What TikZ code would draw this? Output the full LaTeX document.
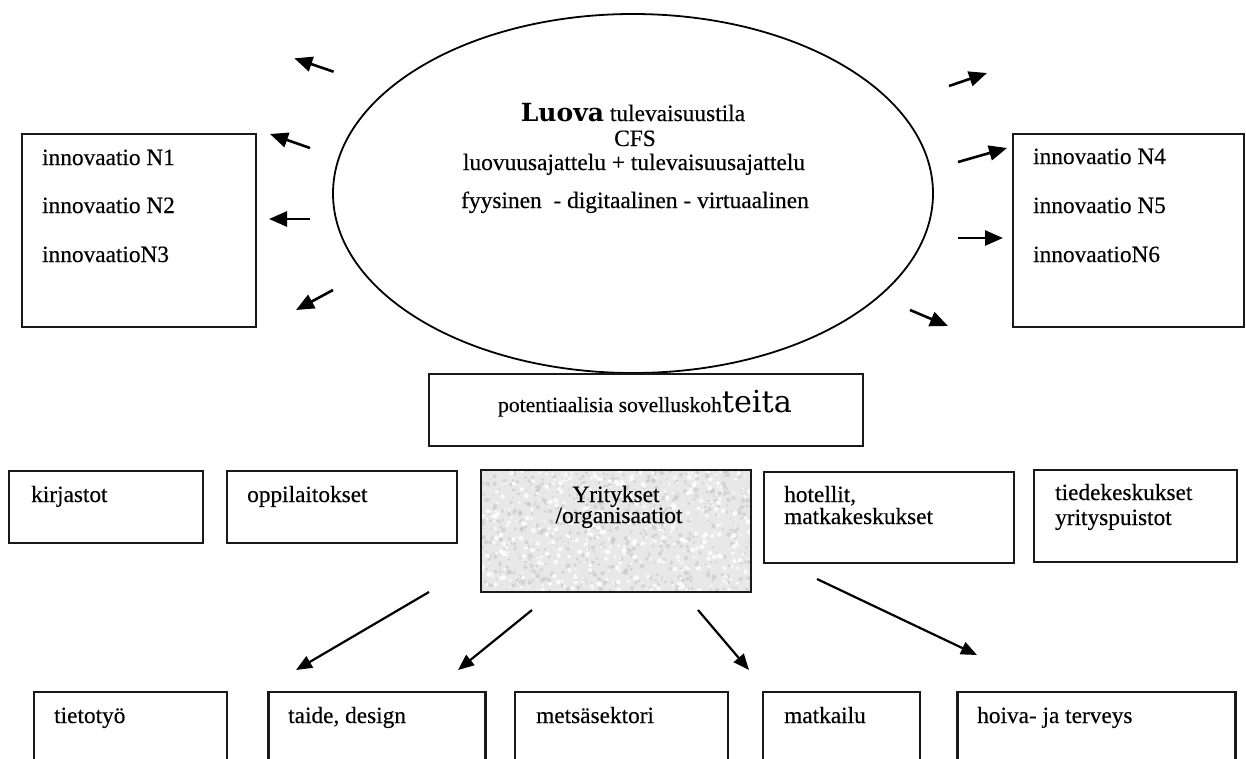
\documentclass[tikz,border=0pt]{standalone}
\usepackage{fontspec}
\setmainfont{Liberation Serif}[UprightFeatures={FakeBold=0.35}]
\newfontfamily\dvs{DejaVu Serif}
\newfontfamily\dvsb{DejaVu Serif Bold}
\usetikzlibrary{arrows.meta,shapes.geometric}
\tikzset{
 box/.style={draw=black!90, line width=2.2pt, anchor=north west, inner sep=0pt, outer sep=0pt},
 txt/.style={anchor=base west, inner sep=0pt, font=\fontsize{23.3}{25}\selectfont},
 ctxt/.style={anchor=base, inner sep=0pt, font=\fontsize{23.4}{25}\selectfont},
 arr/.style={line width=2.6pt, -{Triangle[length=18pt,width=15pt]}},
 arrb/.style={line width=2.2pt, -{Triangle[length=16pt,width=13pt]}},
}
\begin{document}
\begin{tikzpicture}[x=1pt,y=-1pt]
\useasboundingbox (0,0) rectangle (1246,758);
\clip (0,0) rectangle (1246,758);
\fill[white] (0,0) rectangle (1246,758);

% central ellipse
\node[draw, ellipse, line width=1.8pt, minimum width=600pt, minimum height=359pt, inner sep=0pt] (cfs) at (633,193.5) {};
\node[ctxt] (e1) at (633,121) {{\dvsb\fontsize{25}{25}\selectfont Luova} tulevaisuustila};
\node[ctxt] (e2) at (635,146) {CFS};
\node[ctxt] (e3) at (634,170) {luovuusajattelu + tulevaisuusajattelu};
\node[ctxt] (e4) at (635,208) {fyysinen\ \ - digitaalinen - virtuaalinen};

% left innovation box
\node[box, minimum width=234pt, minimum height=193pt] (lbox) at (22,134) {};
\node[txt] (n1) at (42,165) {innovaatio N1};
\node[txt] (n2) at (42,213) {innovaatio N2};
\node[txt] (n3) at (42,262) {innovaatioN3};

% right innovation box
\node[box, minimum width=231pt, minimum height=193pt] (rbox) at (1013,134) {};
\node[txt] (n4) at (1033,164) {innovaatio N4};
\node[txt] (n5) at (1033,213) {innovaatio N5};
\node[txt] (n6) at (1033,262) {innovaatioN6};

% arrows from the ellipse
\coordinate (la1s) at (333.6,71.7); \coordinate (la1e) at (294.3,58.3);
\coordinate (la2s) at (310,148);   \coordinate (la2e) at (270,134);
\coordinate (la3s) at (310,219);   \coordinate (la3e) at (269,219);
\coordinate (la4s) at (333,290);   \coordinate (la4e) at (296,310);
\coordinate (ra1s) at (949,86);    \coordinate (ra1e) at (987,73);
\coordinate (ra2s) at (958,162);   \coordinate (ra2e) at (1007,148);
\coordinate (ra3s) at (958,238);   \coordinate (ra3e) at (1003,238);
\coordinate (ra4s) at (910,310);   \coordinate (ra4e) at (948,326);
\draw[arr] (la1s) -- (la1e);
\draw[arr] (la2s) -- (la2e);
\draw[arr] (la3s) -- (la3e);
\draw[arr] (la4s) -- (la4e);
\draw[arr] (ra1s) -- (ra1e);
\draw[arr] (ra2s) -- (ra2e);
\draw[arr] (ra3s) -- (ra3e);
\draw[arr] (ra4s) -- (ra4e);

% potential applications box
\node[box, minimum width=434pt, minimum height=72pt] (pot) at (429,374) {};
\node[ctxt, font=\fontsize{21.6}{24}\selectfont] (pott) at (645,412) {potentiaalisia sovelluskoh{\dvs\fontsize{30.3}{30}\selectfont teita}};

% middle row
\node[box, minimum width=194pt, minimum height=72pt] (kir) at (9,471) {};
\node[txt] (kirt) at (31,502) {kirjastot};
\node[box, minimum width=230pt, minimum height=72pt] (opp) at (227,471) {};
\node[txt] (oppt) at (247,502) {oppilaitokset};
\node[box, fill=black!9, minimum width=270pt, minimum height=122pt] (yri) at (481,470) {};
\begin{scope}
\clip (482,471) rectangle (750,591);
\pgfmathsetseed{4242}
\foreach \i in {1,...,700}{
  \pgfmathsetmacro{\px}{482+268*rnd}
  \pgfmathsetmacro{\py}{471+120*rnd}
  \pgfmathsetmacro{\pr}{0.8+1.6*rnd}
  \fill[black!22, opacity=0.6] (\px,\py) circle[radius=\pr pt];
}
\foreach \i in {1,...,500}{
  \pgfmathsetmacro{\px}{482+268*rnd}
  \pgfmathsetmacro{\py}{471+120*rnd}
  \pgfmathsetmacro{\pr}{0.8+1.8*rnd}
  \fill[white, opacity=0.8] (\px,\py) circle[radius=\pr pt];
}
\end{scope}
\draw[black!90, line width=2.2pt] (yri.north west) rectangle (yri.south east);
\node[ctxt] (yri1) at (616,502) {Yritykset};
\node[ctxt] (yri2) at (619,523) {/organisaatiot};
\node[box, minimum width=250pt, minimum height=91pt] (hot) at (764,472) {};
\node[txt] (hot1) at (784,502) {hotellit,};
\node[txt] (hot2) at (784,524) {matkakeskukset};
\node[box, minimum width=203pt, minimum height=92pt] (tie) at (1034,470) {};
\node[txt] (tie1) at (1055,500) {tiedekeskukset};
\node[txt] (tie2) at (1055,525) {yrityspuistot};

% arrows down
\coordinate (ba1s) at (429,592); \coordinate (ba1e) at (296,670);
\coordinate (ba2s) at (532,610); \coordinate (ba2e) at (458,670);
\coordinate (ba3s) at (698,610); \coordinate (ba3e) at (749,670);
\coordinate (ba4s) at (817,579); \coordinate (ba4e) at (977,655);
\draw[arrb] (ba1s) -- (ba1e);
\draw[arrb] (ba2s) -- (ba2e);
\draw[arrb] (ba3s) -- (ba3e);
\draw[arrb] (ba4s) -- (ba4e);

% bottom row (cut off by the page edge)
\node[box, minimum width=193pt, minimum height=100pt] (tty) at (34,692) {};
\node[txt] (ttyt) at (54,723) {tietotyö};
\node[box, minimum width=217pt, minimum height=100pt] (tai) at (268.5,692) {};
\node[txt] (tait) at (288,723) {taide, design};
\node[box, minimum width=213pt, minimum height=100pt] (met) at (515,692) {};
\node[txt] (mett) at (536,723) {metsäsektori};
\node[box, minimum width=157pt, minimum height=100pt] (mat) at (763,692) {};
\node[txt] (matt) at (784,723) {matkailu};
\node[box, minimum width=278pt, minimum height=100pt] (hoi) at (957.5,692) {};
\node[txt] (hoit) at (977,723) {hoiva- ja terveys};
\end{tikzpicture}
\end{document}
